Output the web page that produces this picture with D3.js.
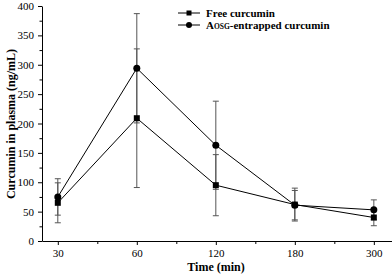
<!DOCTYPE html>
<html>
<head>
  <meta charset="utf-8">
  <script src="https://d3js.org/d3.v7.min.js"></script>
  <style>
    body { margin: 0; background: #fff; }
    text { font-family: "Liberation Serif", "Times New Roman", serif; }
    .axis text { font-size: 11px; fill: #000; }
    .axis path, .axis line { stroke: #000; }
  </style>
</head>
<body>
  <svg id="chart" width="392" height="278"></svg>
  <script>
    // 時間（カテゴリ）
    var times = ["30", "60", "120", "180", "300"];
    // Free curcumin
    var freeMean = [65, 209, 95, 62, 40];
    var freeErr = [34, 118, 52, 28, 14];
    // AOSG-entrapped curcumin
    var aosgMean = [75, 294, 163, 61, 53];
    var aosgErr = [31, 93, 75, 25, 17];
    var yTicks = [0, 50, 100, 150, 200, 250, 300, 350, 400];

    var svg = d3.select("#chart");
    var plotLeft = 42, plotBottom = 241, plotTop = 6, plotRight = 392;

    var x = d3.scaleLinear().domain([-0.2, 4.23]).range([plotLeft, plotRight]);
    var y = d3.scaleLinear().domain([0, 400]).range([plotBottom, plotTop]);

    // X軸
    var xAxis = d3.axisBottom(x)
      .tickValues(d3.range(times.length))
      .tickFormat(function (i) { return times[i]; })
      .tickSize(4).tickPadding(4).tickSizeOuter(0);
    svg.append("g").attr("class", "axis")
      .attr("transform", "translate(0," + plotBottom + ")")
      .call(xAxis);
    // X 補助目盛
    svg.append("g").attr("class", "axis")
      .attr("transform", "translate(0," + plotBottom + ")")
      .call(d3.axisBottom(x).tickValues([0.5, 1.5, 2.5, 3.5]).tickFormat("").tickSize(3).tickSizeOuter(0))
      .select(".domain").remove();

    // Y軸
    svg.append("g").attr("class", "axis")
      .attr("transform", "translate(" + plotLeft + ",0)")
      .call(d3.axisLeft(y).tickValues(yTicks).tickSize(4).tickSizeOuter(0))
      .call(function (g) { g.selectAll("text").attr("dx", "-0.1em"); });
    svg.append("g").attr("class", "axis")
      .attr("transform", "translate(" + plotLeft + ",0)")
      .call(d3.axisLeft(y).tickValues(d3.range(25, 400, 50)).tickFormat("").tickSize(2.5))
      .select(".domain").remove();

    // 軸ラベル
    svg.append("text")
      .attr("x", 216).attr("y", 271)
      .attr("text-anchor", "middle")
      .style("font-size", "12px").style("font-weight", "bold")
      .text("Time (min)");
    svg.append("text")
      .attr("transform", "translate(15,124) rotate(-90)")
      .attr("text-anchor", "middle")
      .style("font-size", "12px").style("font-weight", "bold")
      .text("Curcumin in plasma  (ng/mL)");

    var line = d3.line()
      .x(function (d, i) { return x(i); })
      .y(function (d) { return y(d); });

    function drawErr(mean, err) {
      var g = svg.append("g").attr("stroke", "#555").attr("stroke-width", 1);
      mean.forEach(function (m, i) {
        var cx = x(i);
        g.append("line").attr("x1", cx).attr("x2", cx)
          .attr("y1", y(m - err[i])).attr("y2", y(m + err[i]));
        [m - err[i], m + err[i]].forEach(function (v) {
          g.append("line").attr("x1", cx - 3).attr("x2", cx + 3)
            .attr("y1", y(v)).attr("y2", y(v));
        });
      });
    }
    drawErr(freeMean, freeErr);
    drawErr(aosgMean, aosgErr);

    svg.append("path").datum(freeMean)
      .attr("d", line).attr("fill", "none").attr("stroke", "#000").attr("stroke-width", 1);
    svg.append("path").datum(aosgMean)
      .attr("d", line).attr("fill", "none").attr("stroke", "#000").attr("stroke-width", 1);

    svg.selectAll(".sq").data(freeMean).enter().append("rect")
      .attr("x", function (d, i) { return x(i) - 3; })
      .attr("y", function (d) { return y(d) - 3; })
      .attr("width", 6).attr("height", 6).attr("fill", "#000");
    svg.selectAll(".ci").data(aosgMean).enter().append("circle")
      .attr("cx", function (d, i) { return x(i); })
      .attr("cy", function (d) { return y(d); })
      .attr("r", 3.5).attr("fill", "#000");

    // 凡例
    var lg = svg.append("g");
    lg.append("line").attr("x1", 178).attr("x2", 200).attr("y1", 13).attr("y2", 13).attr("stroke", "#000");
    lg.append("rect").attr("x", 186.5).attr("y", 10.5).attr("width", 5).attr("height", 5).attr("fill", "#000");
    lg.append("line").attr("x1", 178).attr("x2", 200).attr("y1", 25).attr("y2", 25).attr("stroke", "#000");
    lg.append("circle").attr("cx", 189).attr("cy", 25).attr("r", 3).attr("fill", "#000");
    lg.append("text").attr("x", 206).attr("y", 17)
      .style("font-size", "11px").style("font-weight", "bold")
      .text("Free curcumin");
    var t2 = lg.append("text").attr("x", 206).attr("y", 29)
      .style("font-size", "11px").style("font-weight", "bold");
    t2.append("tspan").text("A");
    t2.append("tspan").style("font-size", "7.5px").text("OSG");
    t2.append("tspan").text("-entrapped curcumin");
  </script>
</body>
</html>
